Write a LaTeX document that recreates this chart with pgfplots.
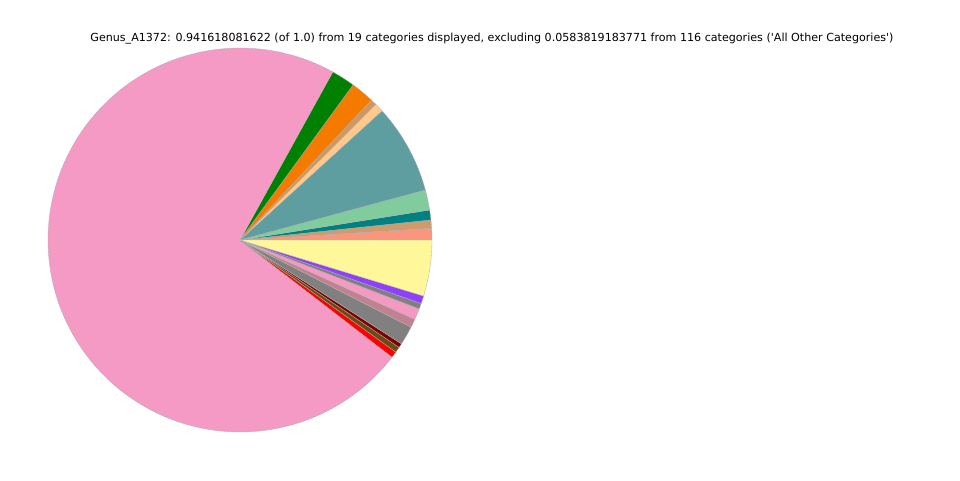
\documentclass[border=0pt]{standalone}
\usepackage{pgfplots}
\pgfplotsset{compat=1.18}
\usepackage{pgfplotstable}
\usepackage{fontspec}
\setmainfont{DejaVu Sans}[Ligatures=TeXOff]

\definecolor{cSalmon}{HTML}{FA9680}
\definecolor{cTan}{HTML}{CD9B6C}
\definecolor{cTeal}{HTML}{008080}
\definecolor{cLightGreen}{HTML}{80CC9C}
\definecolor{cCadet}{HTML}{5F9EA0}
\definecolor{cPeach}{HTML}{FFC88C}
\definecolor{cTanB}{HTML}{CC9966}
\definecolor{cOrange}{HTML}{F57A00}
\definecolor{cGreen}{HTML}{008000}
\definecolor{cPink}{HTML}{F49AC4}
\definecolor{cRed}{HTML}{FF0000}
\definecolor{cBrown}{HTML}{6B4A14}
\definecolor{cDarkRed}{HTML}{800000}
\definecolor{cGray}{HTML}{808080}
\definecolor{cRosy}{HTML}{BF8290}
\definecolor{cPinkB}{HTML}{F49AC2}
\definecolor{cGrayB}{HTML}{808080}
\definecolor{cPurple}{HTML}{8F3FFF}
\definecolor{cYellow}{HTML}{FFF799}

\pgfplotstableread{
value color
0.00915 cSalmon
0.00654 cTan
0.00785 cTeal
0.01596 cLightGreen
0.07114 cCadet
0.00706 cPeach
0.00471 cTanB
0.01857 cOrange
0.01883 cGreen
0.68346 cPink
0.00497 cRed
0.00445 cBrown
0.00340 cDarkRed
0.01491 cGray
0.00680 cRosy
0.00889 cPinkB
0.00445 cGrayB
0.00615 cPurple
0.04433 cYellow
}\pietable

\begin{document}
\begin{tikzpicture}
\pgfplotstablegetrowsof{\pietable}
\pgfmathtruncatemacro\nrows{\pgfplotsretval-1}
\def\total{0}
\pgfplotsforeachungrouped \i in {0,...,\nrows}{%
  \pgfplotstablegetelem{\i}{value}\of\pietable
  \pgfmathsetmacro\total{\total+\pgfplotsretval}%
}
\begin{axis}[
  scale only axis, width=720pt, height=360pt,
  xmin=0, xmax=960, ymin=0, ymax=480,
  hide axis, clip=false,
]
\path (axis cs:0,0) (axis cs:960,480);
\def\cum{0}
\pgfplotsforeachungrouped \i in {0,...,\nrows}{%
  \pgfplotstablegetelem{\i}{value}\of\pietable
  \let\v\pgfplotsretval
  \pgfplotstablegetelem{\i}{color}\of\pietable
  \let\c\pgfplotsretval
  \pgfmathsetmacro\a{360*\cum/\total}%
  \pgfmathsetmacro\cum{\cum+\v}%
  \pgfmathsetmacro\b{360*\cum/\total}%
  \pgfmathtruncatemacro\ns{3+(\b-\a)/2}%
  \edef\temp{\noexpand\addplot[fill=\c, draw=gray!60, line width=0.25pt, domain=\a:\b, samples=\ns, line join=round]
    ({240+192*cos(x)},{240+192*sin(x)}) -- (axis cs:240,240) -- cycle;}%
  \temp
}
\node[font=\fontsize{8.33pt}{10pt}\selectfont, anchor=center] at (axis cs:492,441)
  {Genus\_A1372: 0.941618081622 (of 1.0) from 19 categories displayed, excluding 0.0583819183771 from 116 categories ('All Other Categories')};
\end{axis}
\end{tikzpicture}
\end{document}
